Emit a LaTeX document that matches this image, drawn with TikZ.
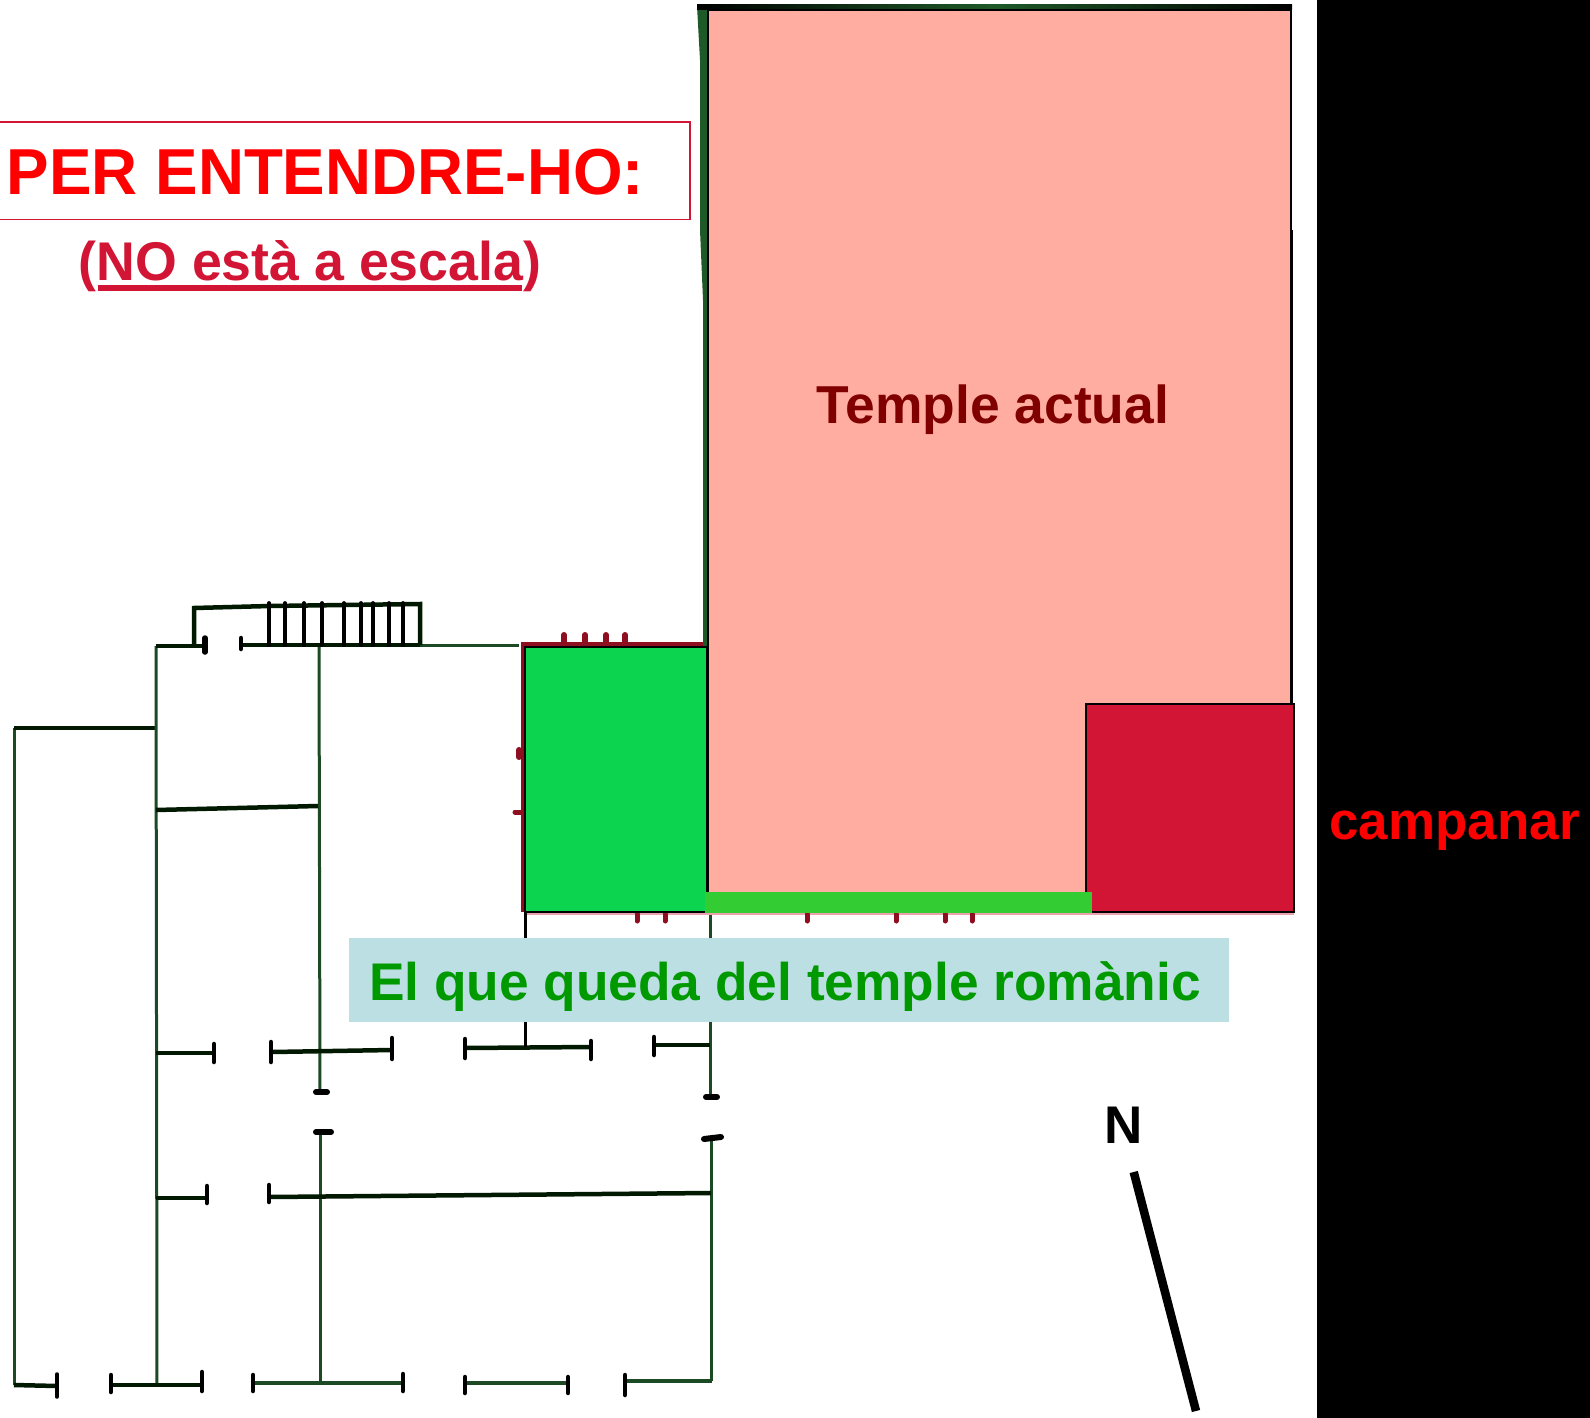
\documentclass[tikz,border=0pt]{standalone}
\usepackage{fontspec}
\usepackage{graphicx}
\setmainfont{Liberation Sans}
\definecolor{salmonfill}{HTML}{FFADA0}
\definecolor{greenfill}{HTML}{0CD44E}
\definecolor{barfill}{HTML}{33CC33}
\definecolor{crimsonfill}{HTML}{D21534}
\definecolor{labelblue}{HTML}{BBDFE3}
\definecolor{labelgreen}{HTML}{009900}
\definecolor{darkred}{HTML}{800000}
\definecolor{wallgreen}{HTML}{1C4A24}
\definecolor{bandgreen}{HTML}{1E5A28}
\definecolor{wallred}{HTML}{8E1020}
\tikzset{
  wall/.style={draw=wallgreen,line width=3pt},
  thickwall/.style={draw=black!90!green,line width=4.5pt},
  greenthick/.style={draw=wallgreen,line width=4.5pt},
  tick/.style={draw=black,line width=4.5pt,line cap=round},
  redwall/.style={draw=wallred,line width=4pt},
  redtick/.style={draw=wallred,line width=6pt,line cap=round},
  plan/.style={draw=black,line width=2pt},
  lab/.style={inner sep=0pt,anchor=base},
}
\begin{document}
\begin{tikzpicture}[x=1pt,y=-1pt]
\useasboundingbox (0,0) rectangle (1590,1418);
\fill[white] (0,0) rectangle (1590,1418);
\fill[black] (1317,0) rectangle (1590,1418);
% old plan: walls
\draw[wall] (14,1385) -- (14,728);
\draw[thickwall,line width=3.5pt] (14,728) -- (156,728);
\draw[wall] (156,646) -- (157,1385);
\draw[wall] (319,646) -- (320,1092);
\draw[wall] (320,1132) -- (320,1383);
\draw[wall] (710,912) -- (710,1097);
\draw[wall] (711,1138) -- (711,1381);
\draw[wall] (420,645) -- (519,645);
% porch and stairs
\draw[thickwall] (156,646) -- (205,646);
\draw[thickwall] (194,646) -- (194,608) -- (270,606) -- (420,604) -- (420,645);
\draw[thickwall] (241,645) -- (420,645);
\foreach \sx in {269,285,304,322,344,361,373,389,403}
  \draw[tick,line width=3.8pt] (\sx,603) -- (\sx,645);
\draw[tick,line width=5.5pt] (205,638) -- (205,652);
\draw[tick] (241,638) -- (241,649);
% cross walls
\draw[thickwall] (156,810) -- (318,806);
\draw[thickwall] (156,1053) -- (214,1053);
\draw[thickwall] (272,1052) -- (392,1050);
\draw[thickwall] (465,1048) -- (592,1047);
\draw[thickwall] (654,1045) -- (710,1045);
\draw[thickwall] (156,1198) -- (207,1198);
\draw[thickwall] (269,1197) -- (711,1193);
\draw[thickwall] (14,1385) -- (57,1386);
\draw[thickwall] (111,1385) -- (202,1385);
\draw[greenthick] (252,1383) -- (403,1383);
\draw[greenthick] (465,1383) -- (568,1383);
\draw[greenthick] (625,1381) -- (712,1381);
% wall end ticks
\draw[tick] (214,1044) -- (214,1062);
\draw[tick] (271,1042) -- (271,1062);
\draw[tick] (392,1038) -- (392,1059);
\draw[tick] (465,1039) -- (465,1058);
\draw[tick] (591,1041) -- (591,1059);
\draw[tick] (654,1037) -- (654,1055);
\draw[tick] (207,1186) -- (207,1203);
\draw[tick] (269,1185) -- (269,1202);
\draw[tick,line width=3.5pt] (57,1374) -- (57,1397);
\draw[tick] (111,1375) -- (111,1392);
\draw[tick] (202,1372) -- (202,1391);
\draw[tick] (253,1375) -- (253,1391);
\draw[tick] (403,1374) -- (403,1391);
\draw[tick] (465,1377) -- (465,1393);
\draw[tick] (568,1377) -- (568,1393);
\draw[tick] (625,1375) -- (625,1395);
\draw[tick,line width=6pt] (316,1092) -- (327,1092);
\draw[tick,line width=6pt] (706,1097) -- (717,1097);
\draw[tick,line width=6pt] (316,1132) -- (331,1132);
\draw[tick,line width=6pt] (704,1139) -- (721,1137);
% red remains of the old wall
\draw[redwall] (706,644) -- (523,644) -- (523,912);
\draw[draw=crimsonfill!40,line width=1.5pt] (525,914) -- (1294,914);
\foreach \rx in {564,585,606,625}
  \draw[redtick] (\rx,635) -- (\rx,643);
\draw[redtick] (519,750) -- (519,757);
\draw[redtick,line width=5pt] (515,812) -- (522,812);
\foreach \rx in {637,665,807,896,945,972}
  \draw[redtick,line width=5pt] (\rx,914) -- (\rx,921);
% enclosing wall of the present temple
\fill[bandgreen] (697,6) -- (709,6) -- (709,646) -- (703,646) -- (703,300) -- (700,230) -- (700,60) -- cycle;
\shade[left color=black,right color=black,middle color=bandgreen] (697,5) rectangle (1292,10);
\draw[draw=black,line width=1.6pt] (1292.5,230) -- (1292.5,704);
% coloured plan
\fill[salmonfill] (708,10) rectangle (1291,913);
\draw[plan] (708,913) -- (708,10) -- (1291,10) -- (1291,704);
\fill[greenfill] (525,647) rectangle (707,912);
\draw[plan,line width=2.4pt] (525,647) rectangle (707,912);
\draw[plan,line width=3pt] (525,912) -- (525,1047);
\fill[crimsonfill] (1086,704) rectangle (1294,912);
\draw[plan] (1086,704) rectangle (1294,912);
\fill[barfill] (705,892) rectangle (1092,913);
% labels
\fill[labelblue] (349,938) rectangle (1229,1021.5);
\node[lab,text=labelgreen,font=\bfseries\fontsize{53}{53}\selectfont] (romanic) at (785,1000) {\scalebox{1.005}[1]{El que queda del temple romànic}};
\draw[draw=crimsonfill,line width=1.5pt] (-2,122) rectangle (690,219.5);
\node[lab,text=red,font=\bfseries\fontsize{65}{65}\selectfont] (titol) at (325.5,194) {\scalebox{.98}[1]{PER ENTENDRE-HO:}};
\node[lab,text=crimsonfill,font=\bfseries\fontsize{54.5}{54.5}\selectfont] (escala) at (310,280) {\scalebox{.985}[1]{(NO està a escala)}};
\fill[crimsonfill] (98,285) rectangle (521.5,291);
\node[lab,text=darkred,font=\bfseries\fontsize{53.4}{53.4}\selectfont] (actual) at (993,423) {Temple actual};
\node[lab,text=red,font=\bfseries\fontsize{53}{53}\selectfont] (campanar) at (1454.5,839) {campanar};
\node[lab,text=black,font=\bfseries\fontsize{53}{53}\selectfont] (nord) at (1124,1143.5) {N};
\coordinate (nordA) at (1133.7,1172);
\coordinate (nordB) at (1196,1411);
\draw[draw=black,line width=8.5pt] (nordA) -- (nordB);
\end{tikzpicture}
\end{document}
